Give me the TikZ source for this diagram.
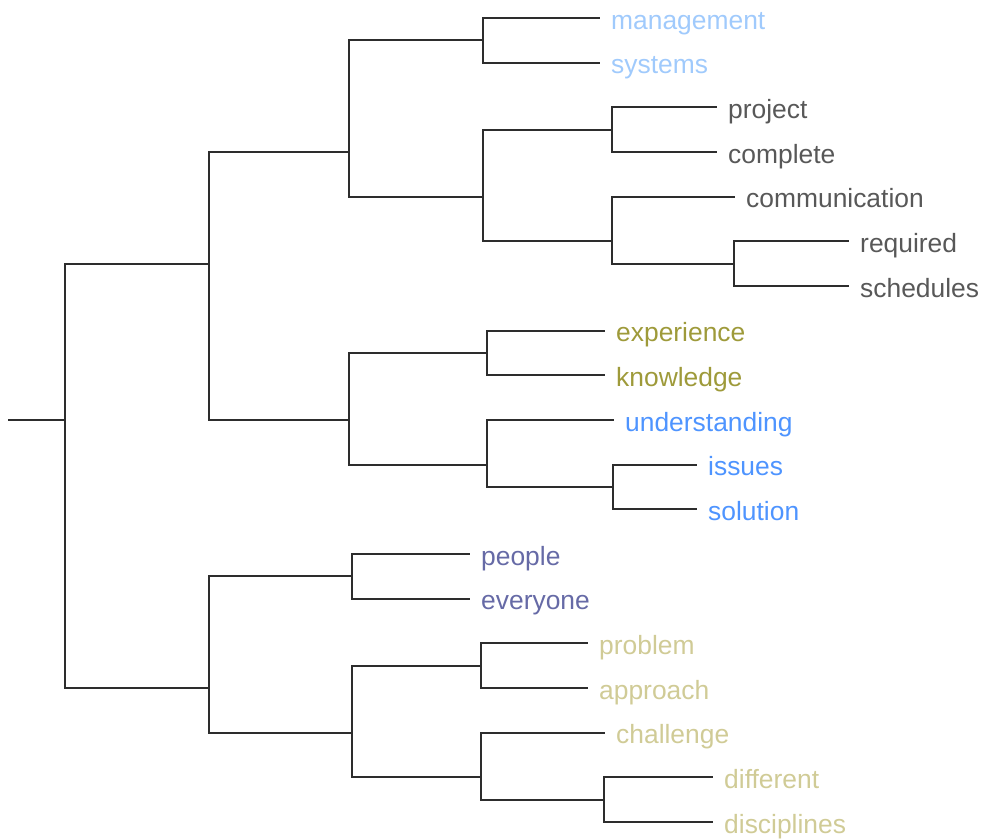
\documentclass[tikz,border=0pt]{standalone}
\usepackage{fontspec}
\setmainfont{Liberation Sans}
\definecolor{branch}{RGB}{45,45,45}
\definecolor{cSky}{RGB}{160,202,252}
\definecolor{cGray}{RGB}{88,88,88}
\definecolor{cOlive}{RGB}{158,154,58}
\definecolor{cBlue}{RGB}{78,148,255}
\definecolor{cSlate}{RGB}{102,106,166}
\definecolor{cKhaki}{RGB}{208,203,150}
\begin{document}
\begin{tikzpicture}[x=1pt,y=-1pt,
  link/.style={draw=branch,line width=2pt,line cap=rect},
  leaf/.style={anchor=west,inner xsep=12pt,inner ysep=0pt,
    text height=25pt,text depth=3pt,
    font=\fontsize{26.4}{26.4}\selectfont}]
\useasboundingbox (0,0) rectangle (981,838);

% leaf rows are evenly spaced
\def\dy{44.667}

% leaves: line end x, row index
\node[leaf,text=cSky]   (management)    at (599, 18+0*\dy)  {management};
\node[leaf,text=cSky]   (systems)       at (599, 18+1*\dy)  {systems};
\node[leaf,text=cGray]  (project)       at (716, 18+2*\dy)  {project};
\node[leaf,text=cGray]  (complete)      at (716, 18+3*\dy)  {complete};
\node[leaf,text=cGray]  (communication) at (734, 18+4*\dy)  {communication};
\node[leaf,text=cGray]  (required)      at (848, 18+5*\dy)  {required};
\node[leaf,text=cGray]  (schedules)     at (848, 18+6*\dy)  {schedules};
\node[leaf,text=cOlive] (experience)    at (604, 18+7*\dy)  {experience};
\node[leaf,text=cOlive] (knowledge)     at (604, 18+8*\dy)  {knowledge};
\node[leaf,text=cBlue]  (understanding) at (613, 18+9*\dy)  {understanding};
\node[leaf,text=cBlue]  (issues)        at (696, 18+10*\dy) {issues};
\node[leaf,text=cBlue]  (solution)      at (696, 18+11*\dy) {solution};
\node[leaf,text=cSlate] (people)        at (469, 18+12*\dy) {people};
\node[leaf,text=cSlate] (everyone)      at (469, 18+13*\dy) {everyone};
\node[leaf,text=cKhaki] (problem)       at (587, 18+14*\dy) {problem};
\node[leaf,text=cKhaki] (approach)      at (587, 18+15*\dy) {approach};
\node[leaf,text=cKhaki] (challenge)     at (604, 18+16*\dy) {challenge};
\node[leaf,text=cKhaki] (different)     at (712, 18+17*\dy) {different};
\node[leaf,text=cKhaki] (disciplines)   at (712, 18+18*\dy) {disciplines};

% merge points: (height, mean row of the leaves below)
\coordinate (stub)  at (9,   18+9*\dy);
\coordinate (root)  at (65,  18+9*\dy);
\coordinate (A)     at (209, 18+5.5*\dy);
\coordinate (B)     at (209, 18+15*\dy);
\coordinate (A1)    at (349, 18+3*\dy);
\coordinate (A2)    at (349, 18+9*\dy);
\coordinate (A1a)   at (483, 18+0.5*\dy);
\coordinate (A1b)   at (483, 18+4*\dy);
\coordinate (A1b1)  at (612, 18+2.5*\dy);
\coordinate (A1b2)  at (612, 18+5*\dy);
\coordinate (A1b2b) at (734, 18+5.5*\dy);
\coordinate (A2a)   at (487, 18+7.5*\dy);
\coordinate (A2b)   at (487, 18+10*\dy);
\coordinate (A2b2)  at (613, 18+10.5*\dy);
\coordinate (B1)    at (352, 18+12.5*\dy);
\coordinate (B2)    at (352, 18+16*\dy);
\coordinate (B2a)   at (481, 18+14.5*\dy);
\coordinate (B2b)   at (481, 18+17*\dy);
\coordinate (B2b2)  at (604, 18+17.5*\dy);

% branches
\draw[link] (stub) -- (root);
\draw[link] (A) -| (root) |- (B);
\draw[link] (A1) -| (A) |- (A2);
\draw[link] (A1a) -| (A1) |- (A1b);
\draw[link] (management.west) -| (A1a) |- (systems.west);
\draw[link] (A1b1) -| (A1b) |- (A1b2);
\draw[link] (project.west) -| (A1b1) |- (complete.west);
\draw[link] (communication.west) -| (A1b2) |- (A1b2b);
\draw[link] (required.west) -| (A1b2b) |- (schedules.west);
\draw[link] (A2a) -| (A2) |- (A2b);
\draw[link] (experience.west) -| (A2a) |- (knowledge.west);
\draw[link] (understanding.west) -| (A2b) |- (A2b2);
\draw[link] (issues.west) -| (A2b2) |- (solution.west);
\draw[link] (B1) -| (B) |- (B2);
\draw[link] (people.west) -| (B1) |- (everyone.west);
\draw[link] (B2a) -| (B2) |- (B2b);
\draw[link] (problem.west) -| (B2a) |- (approach.west);
\draw[link] (challenge.west) -| (B2b) |- (B2b2);
\draw[link] (different.west) -| (B2b2) |- (disciplines.west);
\end{tikzpicture}
\end{document}
